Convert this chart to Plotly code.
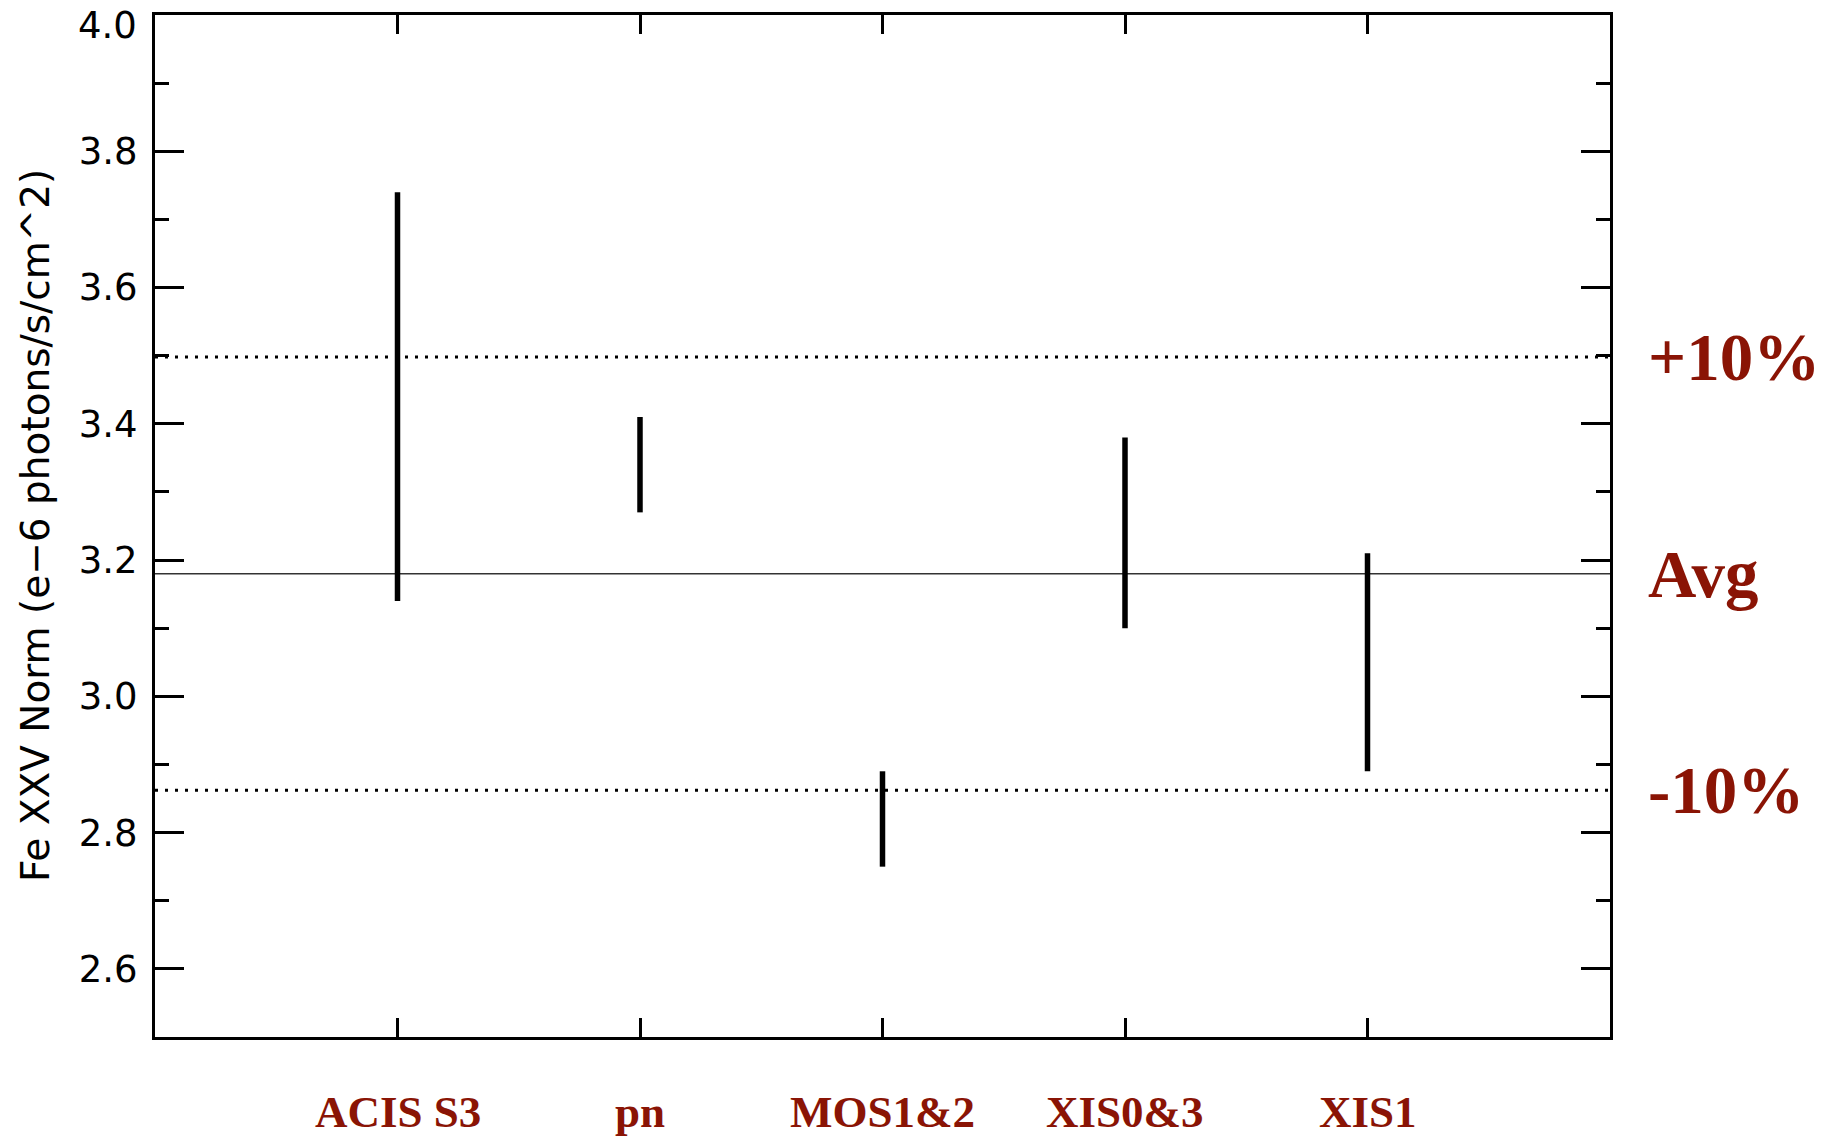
import plotly.graph_objects as go

# Fe XXV line normalisation per instrument (1e-6 photons/s/cm^2), lower/upper bounds
instruments = ["ACIS S3", "pn", "MOS1&2", "XIS0&3", "XIS1"]
norm_low = [3.14, 3.27, 2.75, 3.10, 2.89]
norm_high = [3.74, 3.41, 2.89, 3.38, 3.21]
average = 3.18
band_labels = ["+10%", "Avg", "-10%"]
band_factors = [1.10, 1.00, 0.90]
y_ticks = [2.6, 2.8, 3.0, 3.2, 3.4, 3.6, 3.8, 4.0]

positions = list(range(1, len(instruments) + 1))

DARK_RED = "#8a1405"
AXIS_FONT = "DejaVu Sans"
TICK_FONT = dict(family=AXIS_FONT, size=37, color="black")

# vertical ranges, one segment per instrument
xs, ys = [], []
for p, lo, hi in zip(positions, norm_low, norm_high):
    xs += [p, p, None]
    ys += [lo, hi, None]

fig = go.Figure()

# average and +/-10% reference lines with their labels at the right
band_values = [average * f for f in band_factors]
for lab, val in zip(band_labels, band_values):
    if lab == "Avg":
        line = dict(color="#333333", width=1.5)
    else:
        line = dict(color="black", width=3, dash="3px,7px")
    fig.add_trace(go.Scatter(x=[0, len(instruments) + 1], y=[val, val], mode="lines",
                             line=line, hoverinfo="skip", showlegend=False))
    fig.add_annotation(x=1, xref="paper", y=val, yref="y", text=f"<b>{lab}</b>",
                       showarrow=False, xanchor="left", yanchor="middle", xshift=36,
                       font=dict(family="Liberation Serif", size=67, color=DARK_RED))

fig.add_trace(go.Scatter(x=xs, y=ys, mode="lines", line=dict(color="black", width=5.5),
                         showlegend=False))

# instrument names under the axis
for p, name in zip(positions, instruments):
    fig.add_annotation(x=p, xref="x", y=0, yref="paper", text=f"<b>{name}</b>",
                       showarrow=False, xanchor="center", yanchor="middle", yshift=-75,
                       font=dict(family="Liberation Serif", size=45, color=DARK_RED))

# rotated y-axis title
fig.add_annotation(x=0, xref="paper", y=0.5, yref="paper",
                   text="Fe XXV Norm (e\u22126 photons/s/cm^2)", textangle=-90,
                   showarrow=False, xanchor="center", yanchor="middle", xshift=-120,
                   font=dict(family=AXIS_FONT, size=39, color="black"))

# the top tick label sits a little below its tick so it stays on the page
fig.add_annotation(x=0, xref="paper", y=y_ticks[-1], yref="y", text=f"{y_ticks[-1]:.1f}",
                   showarrow=False, xanchor="right", yanchor="middle", xshift=-16, yshift=-10,
                   font=TICK_FONT)

fig.update_xaxes(range=[0, len(instruments) + 1], tickvals=positions, showticklabels=False,
                 ticks="inside", ticklen=19, tickwidth=2.5, tickcolor="black",
                 showline=True, linewidth=3, linecolor="black", mirror="ticks",
                 showgrid=False, zeroline=False, automargin=False)
fig.update_yaxes(range=[2.5, 4.0], tickvals=y_ticks,
                 ticktext=[f"{v:.1f}" for v in y_ticks[:-1]] + [""],
                 ticks="inside", ticklen=29, tickwidth=3, tickcolor="black",
                 minor=dict(dtick=0.1, tick0=2.5, ticks="inside", ticklen=14, tickwidth=3,
                            tickcolor="black", showgrid=False),
                 showline=True, linewidth=3, linecolor="black", mirror="ticks",
                 showgrid=False, zeroline=False, ticklabelstandoff=7,
                 automargin=False, tickfont=TICK_FONT)

fig.update_layout(width=1825, height=1137, margin=dict(l=155, r=215, t=15, b=100),
                  plot_bgcolor="white", paper_bgcolor="white", showlegend=False)

fig.write_html("out.html")
